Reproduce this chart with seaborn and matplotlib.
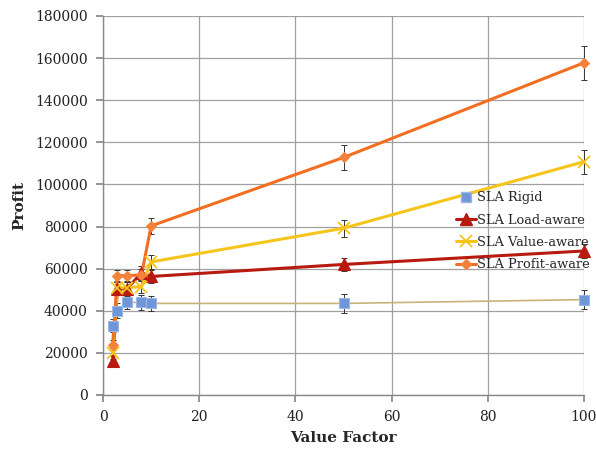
import matplotlib
matplotlib.use("Agg")
import matplotlib.pyplot as plt
from matplotlib.lines import Line2D
import numpy as np
import pandas as pd
import seaborn as sns

# Value factors swept in the experiment
value_factor = [2, 3, 5, 8, 10, 50, 100]

# Mean profit per SLA policy
rigid = [33000, 40000, 44000, 44000, 43500, 43500, 45300]
load_aware = [16000, 50500, 50500, 58000, 56300, 62000, 68400]
value_aware = [19800, 51000, 51000, 51500, 63200, 79200, 110800]
profit_aware = [23700, 56700, 56700, 57000, 80300, 112800, 157800]

# Error bar half-widths
rigid_err = [3000, 3500, 3200, 3500, 3500, 4400, 4600]
load_err = [2500, 3000, 3000, 3500, 3000, 3200, 3200]
value_err = [2500, 3000, 3000, 3200, 3500, 4000, 5700]
profit_err = [2500, 2800, 2800, 3000, 3600, 5800, 8000]

labels = ["SLA Rigid", "SLA Load-aware", "SLA Value-aware", "SLA Profit-aware"]

sns.set_theme(style="whitegrid")
plt.rcParams["font.family"] = ["DejaVu Serif"]

fig = plt.figure(figsize=(5.96, 4.51), dpi=100)
ax = fig.add_axes([103 / 596, 56 / 451, 481 / 596, 379 / 451])

series = [
    (labels[0], rigid, rigid_err, "#c9b27a", "#6f96d8", "s", 7.5, 1.2, "#9ab6e6"),
    (labels[1], load_aware, load_err, "#b81a10", "#b81a10", "^", 8, 2.2, "#b81a10"),
    (labels[2], value_aware, value_err, "#f6c51b", "#f6c51b", "x", 8, 2.2, "#f6c51b"),
    (labels[3], profit_aware, profit_err, "#f26f21", "#f4823a", "D", 5.5, 2.2, "#f4823a"),
]

for name, vals, err, lc, mc, mk, ms, lw, mec in series:
    df = pd.DataFrame({"Value Factor": value_factor, "Profit": vals})
    eb = ax.errorbar(value_factor, vals, yerr=err, fmt="none", ecolor="#333333",
                     elinewidth=0.7, capsize=2.2, capthick=0.7, zorder=2)
    for art in eb.lines[1] + eb.lines[2]:
        art.set_clip_on(False)
    sns.lineplot(data=df, x="Value Factor", y="Profit", ax=ax, color=lc,
                 linewidth=lw, marker=None, zorder=3, legend=False)
    ax.plot(value_factor, vals, linestyle="none", marker=mk, markersize=ms,
            markerfacecolor=mc, markeredgecolor=mec,
            markeredgewidth=1.3 if mk == "x" else 0.8, zorder=4, clip_on=False)

ax.set_xlim(0, 100)
ax.set_ylim(0, 180000)
ax.set_xticks(np.arange(0, 101, 20))
ax.set_yticks(np.arange(0, 180001, 20000))
ax.grid(True, color="#a0a0a0", linewidth=0.9)
ax.set_facecolor("white")
for side in ["top", "right"]:
    ax.spines[side].set_visible(False)
for side in ["left", "bottom"]:
    ax.spines[side].set_color("#888888")
    ax.spines[side].set_linewidth(1.0)
ax.tick_params(axis="both", labelsize=10, colors="#222222", length=5, pad=6,
               direction="out", left=True, bottom=True, color="#888888")
ax.set_xlabel("Value Factor", fontsize=11, fontweight="bold", labelpad=5)
ax.set_ylabel("Profit", fontsize=11, fontweight="bold", labelpad=6)

handles = [
    Line2D([], [], linestyle="none", marker="s", markersize=7.5,
           markerfacecolor="#6f96d8", markeredgecolor="#9ab6e6"),
    Line2D([], [], color="#b81a10", linewidth=2.2, marker="^", markersize=8,
           markerfacecolor="#b81a10", markeredgecolor="#b81a10"),
    Line2D([], [], color="#f6c51b", linewidth=2.2, marker="x", markersize=8,
           markeredgecolor="#f6c51b", markeredgewidth=1.3),
    Line2D([], [], color="#f26f21", linewidth=2.2, marker="D", markersize=5.5,
           markerfacecolor="#f4823a", markeredgecolor="#f4823a"),
]
fig.legend(handles, labels, loc="upper left", bbox_to_anchor=(451 / 596, 1 - 186 / 451),
           frameon=False, fontsize=9.4, handlelength=1.5, handletextpad=0.1,
           labelspacing=0.72, borderaxespad=0)

fig.savefig("out.png", dpi=100)
